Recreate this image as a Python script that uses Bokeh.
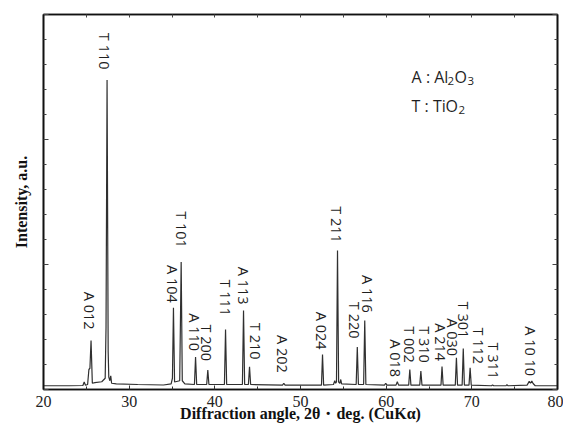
import math
from bokeh.plotting import figure
from bokeh.models import Range1d, LinearAxis, FixedTicker, ColumnDataSource, CustomJSTickFormatter
from bokeh.core.properties import value
from bokeh.embed import file_html
from bokeh.resources import INLINE

# ---- data ----
# diffraction profile vertices (2theta in deg, intensity in a.u.)
profile_x = [20.0, 23.0, 24.6, 24.75, 24.9,
             25.15, 25.3, 25.42, 25.55, 25.7,
             26.0, 26.8, 27.2, 27.3, 27.42, 27.55, 27.62, 27.75, 27.85, 27.95,
             28.5, 31.0, 34.0, 34.9,
             35.05, 35.17, 35.3, 35.9, 36.07, 36.2, 36.5,
             37.62, 37.75, 37.88,
             39.05, 39.18, 39.31,
             41.12, 41.25, 41.38,
             43.22, 43.35, 43.48,
             43.92, 44.05, 44.18,
             47.9, 48.05, 48.2,
             52.45, 52.57, 52.7,
             53.85, 54.0, 54.1, 54.2, 54.32, 54.45, 54.6, 54.7, 54.8,
             56.5, 56.63, 56.76,
             57.37, 57.5, 57.63,
             59.8, 59.95, 60.1,
             61.15, 61.3, 61.45,
             62.63, 62.76, 62.89,
             63.92, 64.05, 64.18,
             66.4, 66.52, 66.65,
             68.07, 68.2, 68.33,
             68.87, 69.0, 69.13,
             69.67, 69.8, 69.93,
             72.3, 72.42, 72.55,
             74.0, 74.1, 74.2,
             76.45, 76.7, 76.85, 77.0, 77.15, 77.4,
             80.0]
profile_y = [0.030, 0.030, 0.032, 0.060, 0.034,
             0.040, 0.160, 0.170, 0.392, 0.050,
             0.055, 0.062, 0.090, 0.500, 2.475, 0.300, 0.100, 0.070, 0.110, 0.050,
             0.045, 0.040, 0.036, 0.045,
             0.090, 0.653, 0.060, 0.070, 1.020, 0.070, 0.045,
             0.040, 0.260, 0.040,
             0.040, 0.155, 0.040,
             0.040, 0.480, 0.040,
             0.040, 0.632, 0.040,
             0.040, 0.181, 0.040,
             0.035, 0.050, 0.035,
             0.035, 0.280, 0.035,
             0.040, 0.070, 0.050, 0.060, 1.112, 0.060, 0.050, 0.080, 0.045,
             0.040, 0.339, 0.040,
             0.040, 0.552, 0.040,
             0.035, 0.050, 0.035,
             0.035, 0.062, 0.035,
             0.035, 0.160, 0.035,
             0.035, 0.147, 0.035,
             0.035, 0.184, 0.035,
             0.035, 0.253, 0.035,
             0.035, 0.328, 0.035,
             0.035, 0.173, 0.035,
             0.030, 0.037, 0.030,
             0.030, 0.040, 0.030,
             0.035, 0.065, 0.050, 0.068, 0.048, 0.030,
             0.030]

# peak labels: text, x centre (deg), y of the lower end of the label (a.u.)
label_text = ["A 012", "T 110", "A 104", "T 101", "A 110", "T 200", "T 111",
              "A 113", "T 210", "A 202", "A 024", "T 211", "T 220", "A 116",
              "A 018", "T 002", "T 310", "A 214", "A 030", "T 301", "T 112",
              "T 311", "A 10 10"]
label_x = [25.37, 27.13, 35.02, 36.16, 37.62, 39.01, 41.19,
           43.29, 44.76, 47.90, 52.44, 54.20, 56.30, 57.77,
           61.12, 62.68, 64.48, 66.37, 67.80, 69.06, 70.80,
           72.58, 76.90]
label_y = [0.480, 2.560, 0.693, 1.133, 0.307, 0.227, 0.587,
           0.680, 0.240, 0.133, 0.320, 1.173, 0.408, 0.613,
           0.099, 0.213, 0.213, 0.227, 0.267, 0.410, 0.203,
           0.083, 0.107]

x_ticks = [20, 30, 40, 50, 60, 70, 80]
x_minor = [25, 35, 45, 55, 65, 75]
y_ticks = [0, 1, 2, 3]
y_minor = [0.2, 0.4, 0.6, 0.8, 1.2, 1.4, 1.6, 1.8, 2.2, 2.4, 2.6, 2.8]

legend_anchor_x = 62.97
legend_line1_y = 2.504
legend_line2_y = 2.272

SERIF = "Liberation Serif"
SANS = "Open Sans"
blank = CustomJSTickFormatter(code="return ''")

p = figure(width=563, height=425,
           x_range=Range1d(20, 80), y_range=Range1d(0, 3),
           output_backend="svg", toolbar_location=None,
           min_border_left=43, min_border_right=6,
           min_border_top=14, min_border_bottom=36,
           x_axis_label="Diffraction angle, 2θ・deg. (CuKα)",
           y_axis_label="Intensity, a.u.")
p.grid.visible = False
p.outline_line_color = "#111111"
p.outline_line_width = 1.6

xt = FixedTicker(ticks=x_ticks, minor_ticks=x_minor)
yt = FixedTicker(ticks=y_ticks, minor_ticks=y_minor)

xa = p.xaxis[0]
xa.ticker = xt
xa.major_tick_in = 4
xa.major_tick_out = 0
xa.minor_tick_in = 3
xa.minor_tick_out = 0
xa.axis_line_color = "#111111"
xa.axis_line_width = 1.6
xa.major_tick_line_color = "#333333"
xa.minor_tick_line_color = "#333333"
xa.major_label_text_font = SERIF
xa.major_label_text_font_size = "16px"
xa.major_label_text_color = "#222222"
xa.major_label_standoff = 6
xa.axis_label_text_font = SERIF
xa.axis_label_text_font_style = "bold"
xa.axis_label_text_font_size = "16px"
xa.axis_label_text_color = "#111111"
xa.axis_label_standoff = -5

ya = p.yaxis[0]
ya.ticker = yt
ya.formatter = blank
ya.major_tick_in = 5
ya.major_tick_out = 0
ya.minor_tick_in = 3
ya.minor_tick_out = 0
ya.axis_line_color = "#111111"
ya.axis_line_width = 1.6
ya.major_tick_line_color = "#444444"
ya.minor_tick_line_color = "#444444"
ya.major_label_standoff = 0
ya.axis_label_text_font = SERIF
ya.axis_label_text_font_style = "bold"
ya.axis_label_text_font_size = "16px"
ya.axis_label_text_color = "#111111"
ya.axis_label_standoff = 14

ra = LinearAxis(ticker=yt, formatter=blank, major_tick_in=5, major_tick_out=0,
                minor_tick_in=3, minor_tick_out=0,
                major_label_standoff=0, axis_line_color="#111111",
                axis_line_width=1.6, major_tick_line_color="#444444",
                minor_tick_line_color="#444444")
p.add_layout(ra, "right")
ta = LinearAxis(ticker=FixedTicker(ticks=x_minor + x_ticks), formatter=blank,
                major_tick_in=3, major_tick_out=0, minor_tick_in=0, minor_tick_out=0,
                major_label_standoff=0,
                axis_line_color="#111111", axis_line_width=1.6,
                major_tick_line_color="#444444")
p.add_layout(ta, "above")

# profile
p.line(profile_x, profile_y, line_color="#303030", line_width=1.2)

# peak labels
src = ColumnDataSource(dict(x=label_x, y=label_y, t=label_text))
p.text(x="x", y="y", text="t", source=src, angle=-math.pi / 2,
       text_align="right", text_baseline="middle",
       text_font=value(SANS), text_font_size="14.5px", text_color="#1f1f1f")

# legend with subscripts
def piece(txt, y, dx, dy, size):
    p.text(x=[legend_anchor_x], y=[y], text=[txt], x_offset=dx, y_offset=dy,
           text_align="left", text_baseline="alphabetic",
           text_font=value(SANS), text_font_size=size, text_color="#1f1f1f")

piece("A : Al", legend_line1_y, 0, 0, "16px")
piece("2", legend_line1_y, 36, 4, "11.5px")
piece("O", legend_line1_y, 43, 0, "16px")
piece("3", legend_line1_y, 56, 4, "11.5px")
piece("T : Ti", legend_line2_y, 0, 0, "16px")
piece("O", legend_line2_y, 34, 0, "16px")
piece("2", legend_line2_y, 47, 4, "11.5px")

open("out.html", "w").write(file_html(p, INLINE))
